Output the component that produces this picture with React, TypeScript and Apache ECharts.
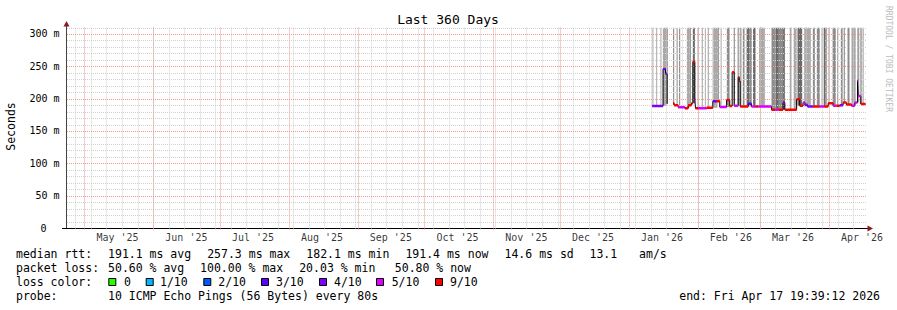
import React, { useEffect, useRef } from 'react';
import * as echarts from 'echarts';

const DAY = 86400000;
const JAN1 = Date.UTC(2026, 0, 1);
const END = Date.UTC(2026, 3, 17, 19, 39, 12);
const START = END - 360 * DAY;
const Y_MAX = 310;

const monthLabels = ["May '25", "Jun '25", "Jul '25", "Aug '25", "Sep '25", "Oct '25", "Nov '25", "Dec '25", "Jan '26", "Feb '26", "Mar '26", "Apr '26"];
const monthLabelDates = ['2025-05-16', '2025-06-16', '2025-07-16', '2025-08-16', '2025-09-16', '2025-10-16', '2025-11-16', '2025-12-16', '2026-01-16', '2026-02-16', '2026-03-16', '2026-04-16'];
const monthStarts = ['2025-05-01', '2025-06-01', '2025-07-01', '2025-08-01', '2025-09-01', '2025-10-01', '2025-11-01', '2025-12-01', '2026-01-01', '2026-02-01', '2026-03-01', '2026-04-01'];
const firstSunday = '2025-04-27';

// median rtt segments: start (days since 2026-01-01), value (ms), loss (x/10)
const medianStart = [10.6, 15.5, 16.6, 17.3, 17.5, 20.0, 20.5, 22.3, 25.3, 26.8, 28.3, 28.9, 29.8, 30.1, 31.3, 35.1, 37.9, 39.6, 41.0, 44.1, 45.5, 46.6, 47.5, 49.3, 49.8, 50.2, 53.8, 55.3, 57.0, 58.5, 64.3, 66.0, 67.5, 69.5, 70.3, 75.6, 77.0, 78.5, 79.3, 80.5, 83.0, 86.0, 88.0, 89.8, 92.0, 93.5, 95.0, 96.5, 98.0, 100.3, 101.8, 103.0, 103.3, 104.5];
const medianValue = [188.6, 246, 238.6, 192, null, 193, 190, 186.6, 185, 190, 193, 257.3, 199, 185, 185, 186, 196, 196, 187, 198, 188.6, 241, 189, 233, 227, 188, 192, 188, 188, 188, 183, 183, 183, 194, 183, 199, 189, 194, 190.5, 188, 188, 188, 188, 193, 189, 189, 190, 194, 191, 189, 194, 228, 204, 191.7];
const medianLoss = [4, 4, 4, null, null, 9, 9, 5, 9, 9, 9, 9, 5, 9, 5, 9, 3, 9, 5, 9, 9, 9, 5, 9, 9, 9, 3, 5, 9, 5, 9, 5, 9, 4, 9, 9, 9, 5, 4, 4, 9, 5, 9, 9, 5, 9, 4, 9, 9, 5, 5, 5, 5, 9];
const medianEndDay = 106.6;

// smoke columns: start / end (days since 2026-01-01), density (1 light .. 3 dark)
const smokeStart = [10.7, 12.4, 14.3, 15.4, 17.1, 20.0, 21.6, 22.7, 26.2, 27.4, 28.9, 31.0, 32.9, 34.3, 35.6, 37.8, 40.0, 41.4, 44.2, 47.3, 49.0, 50.0, 51.4, 53.1, 54.2, 56.0, 58.7, 64.3, 65.8, 67.6, 69.5, 72.5, 74.3, 76.0, 79.0, 82.9, 84.7, 86.8, 87.8, 88.7, 89.9, 91.8, 93.8, 95.5, 96.8, 98.5, 100.3, 103.0, 104.0, 104.6, 105.3];
const smokeEnd = [11.1, 12.8, 14.6, 17.1, 17.5, 20.5, 22.0, 23.2, 27.4, 28.0, 29.8, 31.5, 33.4, 34.6, 36.1, 40.0, 40.6, 41.8, 45.5, 47.8, 49.7, 50.8, 52.2, 54.2, 55.4, 57.1, 61.3, 65.8, 67.6, 69.5, 70.3, 73.3, 75.6, 78.1, 82.0, 83.8, 86.0, 87.3, 88.7, 89.3, 90.3, 93.2, 94.3, 96.3, 97.3, 99.4, 102.2, 103.5, 104.5, 105.1, 105.8];
const smokeShade = [1, 1, 1, 1, 3, 2, 2, 2, 1, 2, 3, 1, 1, 1, 1, 1, 2, 1, 2, 2, 1, 1, 2, 3, 2, 3, 1, 2, 3, 2, 3, 1, 1, 3, 1, 2, 2, 1, 3, 1, 1, 2, 1, 2, 2, 2, 1, 3, 1, 1, 1];

const lossLevels = [0, 1, 2, 3, 4, 5, 9];
const lossLabels = ['0', '1/10', '2/10', '3/10', '4/10', '5/10', '9/10'];
const lossColors = ['#26ff00', '#00b8ff', '#0059ff', '#5e00ff', '#7e00ff', '#dd00ff', '#ff0000'];

// legend rows: [text, character column]
const rowRtt: [string, number][] = [['median rtt:', 0], ['191.1 ms avg', 13], ['257.3 ms max', 27], ['182.1 ms min', 41], ['191.4 ms now', 55], ['14.6 ms sd', 69], ['13.1', 81], ['am/s', 88]];
const rowLoss: [string, number][] = [['packet loss:', 0], ['50.60 % avg', 13], ['100.00 % max', 26], ['20.03 % min', 40], ['50.80 % now', 53.5]];
const probeText = '10 ICMP Echo Pings (56 Bytes) every 80s';
const endText = 'end: Fri Apr 17 19:39:12 2026';

const FONT = "'DejaVu Sans Mono', monospace";
const smokeColors: Record<number, string> = { 1: '#a9a9a9', 2: '#8c8c8c', 3: '#6a6a6a' };
const GRID_GRAY = '#d0d0d0';
const GRID_RED = '#f29696';

const t = (d: number) => JAN1 + d * DAY;
const dateTs = (s: string) => {
  const [y, m, d] = s.split('-').map(Number);
  return Date.UTC(y, m - 1, d);
};

export default function App() {
  const ref = useRef<HTMLDivElement>(null);
  useEffect(() => {
    const chart = echarts.init(ref.current!, null, { renderer: 'svg' });

    const segs = medianStart.map((s, i) => ({
      s,
      e: i < medianStart.length - 1 ? medianStart[i + 1] : medianEndDay,
      v: medianValue[i],
      l: medianLoss[i],
    }));
    const lineData: any[] = segs.map((g) => [t(g.s), g.v]);
    lineData.push([t(medianEndDay), medianValue[medianValue.length - 1]]);
    const colorData = segs
      .filter((g) => g.v != null && g.l != null)
      .map((g) => [t(g.s), t(g.e), g.v, g.l]);
    const smokeData = smokeStart.map((s, i) => {
      const e = smokeEnd[i];
      const ov = segs.filter((g) => g.v != null && g.e > s - 0.3 && g.s < e + 0.3);
      const low = ov.length ? Math.min(...ov.map((g) => g.v as number)) : 190;
      return [t(s), t(e), low, smokeShade[i]];
    });

    const weekLines: any[] = [];
    for (let ts = dateTs(firstSunday); ts < END; ts += 7 * DAY) weekLines.push([ts, 0]);
    const monthLines = monthStarts.map((m) => [dateTs(m), 0]);
    const minorH: any[] = [];
    const majorH: any[] = [];
    for (let v = 10; v <= Y_MAX; v += 10) (v % 50 === 0 ? majorH : minorH).push([START, v]);

    const lossColorOf = (l: number) => lossColors[lossLevels.indexOf(l)] || '#000';

    const vGridSeries = (name: string, data: any[], color: string, z: number) => ({
      type: 'custom', name, z, clip: false, silent: true, encode: { x: 0, y: 1 }, data,
      renderItem: (params: any, api: any) => {
        const cs = params.coordSys;
        const x = Math.round(api.coord([api.value(0), 0])[0]) + 0.5;
        return { type: 'line', shape: { x1: x, y1: cs.y, x2: x, y2: cs.y + cs.height + 2 }, style: { stroke: color, lineWidth: 1, lineDash: [1, 1] } };
      },
    });
    const hGridSeries = (name: string, data: any[], color: string, z: number) => ({
      type: 'custom', name, z, clip: false, silent: true, encode: { x: 0, y: 1 }, data,
      renderItem: (params: any, api: any) => {
        const cs = params.coordSys;
        const y = Math.round(api.coord([api.value(0), api.value(1)])[1]) + 0.5;
        return { type: 'line', shape: { x1: cs.x + 1, y1: y, x2: cs.x + cs.width, y2: y }, style: { stroke: color, lineWidth: 1, lineDash: [1, 1] } };
      },
    });

    const textEl = (text: string, x: number, y: number, extra: any = {}) => ({
      type: 'text', x, y, silent: true,
      style: { text, fontFamily: FONT, fontSize: 11.5, fill: '#000', align: 'left', verticalAlign: 'middle', ...extra },
    });

    const CW = 7.08;
    const rows = [254.3, 268.3, 282.2, 296];
    const sqX = [108.3, 145.7, 203.3, 261, 319, 376, 435];
    const sqLabelX = [124, 160, 218.3, 276, 334, 391.7, 450];

    const graphics: any[] = [
      textEl('Last 360 Days', 448, 19.5, { fontSize: 13, align: 'center' }),
      { ...textEl('Seconds', 11, 126.5, { align: 'center' }), rotation: Math.PI / 2 },
      { ...textEl('RRDTOOL / TOBI OETIKER', 888.5, 59, { align: 'center', fontSize: 8, fill: '#bcbcbc' }), rotation: -Math.PI / 2 },
      { type: 'polygon', silent: true, z: 10, shape: { points: [[63.5, 26.5], [69.5, 26.5], [66.5, 21]] }, style: { fill: '#8b1a1a' } },
      { type: 'polygon', silent: true, z: 10, shape: { points: [[867.5, 225.5], [867.5, 231.5], [873, 228.5]] }, style: { fill: '#8b1a1a' } },
      { type: 'line', silent: true, shape: { x1: 62, y1: 228.5, x2: 66, y2: 228.5 }, style: { stroke: '#000', lineWidth: 1 } },
      { type: 'line', silent: true, shape: { x1: 866, y1: 228.5, x2: 868, y2: 228.5 }, style: { stroke: '#000', lineWidth: 1 } },
      { type: 'line', silent: true, shape: { x1: 66.5, y1: 26, x2: 66.5, y2: 28 }, style: { stroke: '#444', lineWidth: 1 } },
      textEl('loss color:', 16, rows[2]),
      textEl('probe:', 16, rows[3]),
      textEl(probeText, 16 + 13 * CW, rows[3]),
      textEl(endText, 880, rows[3], { align: 'right' }),
    ];
    rowRtt.forEach(([s, c]) => graphics.push(textEl(s, 16 + c * CW, rows[0])));
    rowLoss.forEach(([s, c]) => graphics.push(textEl(s, 16 + c * CW, rows[1])));
    lossLabels.forEach((s, i) => {
      graphics.push({ type: 'rect', silent: true, shape: { x: sqX[i] + 0.5, y: 278.5, width: 7, height: 7 }, style: { fill: lossColors[i], stroke: '#000', lineWidth: 1 } });
      graphics.push(textEl(s, sqLabelX[i], rows[2]));
    });

    const option: any = {
      animation: false,
      useUTC: true,
      backgroundColor: '#ffffff',
      grid: { left: 66, top: 27.53, width: 800, height: 200.47 },
      xAxis: { type: 'time', min: START, max: END, axisLine: { show: true, lineStyle: { color: '#000', width: 1 } }, axisTick: { show: false }, axisLabel: { show: false }, splitLine: { show: false } },
      yAxis: {
        type: 'value', min: 0, max: Y_MAX, interval: 50,
        axisLine: { show: true, lineStyle: { color: '#444', width: 1 } }, axisTick: { show: false }, splitLine: { show: false },
        axisLabel: {
          showMaxLabel: false, margin: 6.5, fontFamily: FONT, fontSize: 10, color: '#000',
          formatter: (v: number) => (v === 0 ? '{z|0}' : `${v} m`),
          rich: { z: { fontFamily: FONT, fontSize: 10, color: '#000', padding: [0, 13, 0, 0] } },
        },
      },
      graphic: graphics,
      series: [
        {
          type: 'custom', name: 'smoke', z: 1, clip: true, silent: true, encode: { x: [0, 1], y: 2 }, data: smokeData,
          renderItem: (_p: any, api: any) => {
            const p0 = api.coord([api.value(0), Y_MAX]);
            const p1 = api.coord([api.value(1), api.value(2)]);
            return { type: 'rect', shape: { x: p0[0], y: p0[1], width: Math.max(1, p1[0] - p0[0]), height: p1[1] - p0[1] }, style: { fill: smokeColors[api.value(3)] } };
          },
        },
        vGridSeries('weekGrid', weekLines, GRID_GRAY, 2),
        hGridSeries('minorGrid', minorH, GRID_GRAY, 2),
        vGridSeries('monthGrid', monthLines, GRID_RED, 2.5),
        hGridSeries('majorGrid', majorH, GRID_RED, 2.5),
        { type: 'line', name: 'median', z: 3, step: 'end', showSymbol: false, connectNulls: false, data: lineData, lineStyle: { color: '#000', width: 1 }, silent: true },
        {
          type: 'custom', name: 'loss', z: 4, clip: true, silent: true, encode: { x: [0, 1], y: 2 }, data: colorData,
          renderItem: (_p: any, api: any) => {
            const p0 = api.coord([api.value(0), api.value(2)]);
            const p1 = api.coord([api.value(1), api.value(2)]);
            return { type: 'rect', shape: { x: p0[0], y: p0[1] - 1.25, width: p1[0] - p0[0], height: 2.5 }, style: { fill: lossColorOf(api.value(3)) } };
          },
        },
        {
          type: 'scatter', name: 'months', z: 5, clip: false, symbolSize: 1, itemStyle: { color: 'transparent' }, silent: true,
          data: monthLabels.map((n, i) => ({ name: n, value: [dateTs(monthLabelDates[i]), 0] })),
          label: { show: true, position: 'bottom', distance: 4, formatter: '{b}', fontFamily: FONT, fontSize: 10, color: '#000' },
        },
      ],
    };
    chart.setOption(option);
    return () => chart.dispose();
  }, []);
  return (
    <div
      ref={ref}
      style={{ position: 'fixed', left: 0, top: 0, width: 897, height: 310, background: '#fff' }}
    />
  );
}
